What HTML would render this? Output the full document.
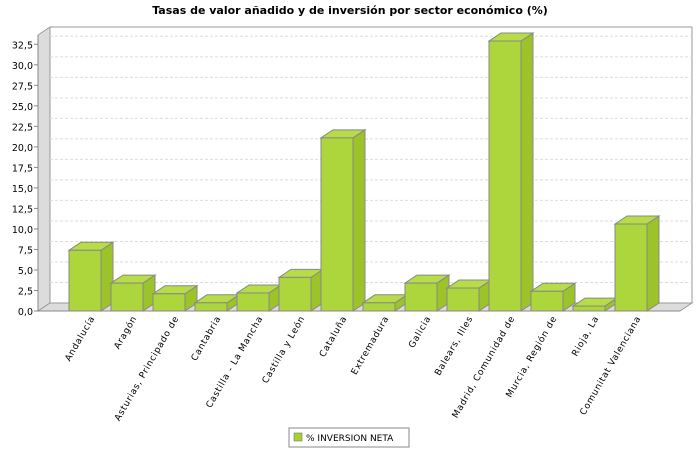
<!DOCTYPE html>
<html><head><style>body{margin:0;background:#fff}svg{display:block}</style></head><body>
<svg width="700" height="450" xmlns="http://www.w3.org/2000/svg" font-family="DejaVu Sans, sans-serif">
<text x="350" y="14" text-anchor="middle" font-size="11" font-weight="bold">Tasas de valor añadido y de inversión por sector económico (%)</text>
<polygon points="38,35 50,27 50,303 38,311" fill="#dcdcdc" stroke="#999" stroke-width="1"/>
<polygon points="38,311 50,303 692,303 680,311" fill="#dcdcdc" stroke="#999" stroke-width="1"/>
<line x1="50" y1="27" x2="692" y2="27" stroke="#999"/>
<line x1="692" y1="27" x2="692" y2="303" stroke="#999"/>
<g id="grid" stroke="#ddd" stroke-dasharray="3,2"></g>
<line x1="38" y1="311" x2="680" y2="311" stroke="#888"/>
<line x1="38" y1="35" x2="38" y2="311" stroke="#888"/>
<g id="ticks" font-size="9.5" text-anchor="end"></g>
<g id="bars"></g>
<g id="labels" font-size="9" letter-spacing="0.7"></g>
<rect x="289" y="428" width="120" height="19" fill="#fff" stroke="#888"/>
<rect x="294" y="433" width="8" height="8" fill="#a8d030" stroke="#666" stroke-width="0.5"/>
<text x="306" y="441" font-size="9">% INVERSION NETA</text>
<script>
var ns="http://www.w3.org/2000/svg",s=8.206;
function el(p,t,a,txt){var e=document.createElementNS(ns,t);for(var k in a)e.setAttribute(k,a[k]);if(txt)e.textContent=txt;document.getElementById(p).appendChild(e);}
for(var i=0;i<=13;i++){var v=i*2.5,y=311-v*s;
 el("ticks","text",{x:33,y:y+4},v.toFixed(1).replace(".",","));
 el("ticks","line",{x1:34,y1:y,x2:38,y2:y,stroke:"#888"});
 if(i>0){el("grid","line",{x1:38,y1:y,x2:50,y2:y-8});el("grid","line",{x1:50,y1:y-8,x2:692,y2:y-8});}}
var names=["Andalucía","Aragón","Asturias, Principado de","Cantabria","Castilla - La Mancha","Castilla y León","Cataluña","Extremadura","Galicia","Balears, Illes","Madrid, Comunidad de","Murcia, Región de","Rioja, La","Comunitat Valenciana"];
var vals=[7.4,3.4,2.1,1.0,2.2,4.1,21.1,1.0,3.4,2.8,32.9,2.4,0.6,10.6];
for(var i=0;i<14;i++){var x=69+i*42,w=32,t=311-vals[i]*s;
 el("bars","polygon",{points:(x+w)+","+t+" "+(x+w+12)+","+(t-8)+" "+(x+w+12)+",303 "+(x+w)+",311",fill:"#9cc42a",stroke:"#888"});
 el("bars","polygon",{points:x+","+t+" "+(x+12)+","+(t-8)+" "+(x+w+12)+","+(t-8)+" "+(x+w)+","+t,fill:"#b8dc48",stroke:"#888"});
 el("bars","rect",{x:x,y:t,width:w,height:311-t,fill:"#acd63c",stroke:"#888"});
 var cx=x+w/2+10;
 el("labels","text",{x:cx,y:318,"text-anchor":"end",transform:"rotate(-60 "+cx+" 318)"},names[i]);}
</script>
</svg>
</body></html>
